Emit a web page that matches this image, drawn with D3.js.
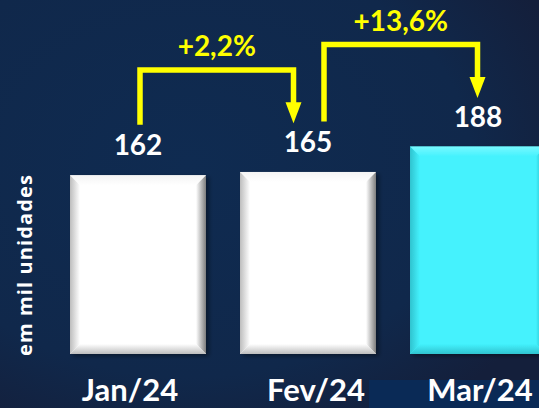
<!DOCTYPE html>
<html>
<head>
<meta charset="utf-8">
<script src="https://cdn.jsdelivr.net/npm/d3@7"></script>
<style>
  html, body { margin: 0; padding: 0; background: #0f2a4e; overflow: hidden; }
  svg { display: block; }
  text { font-family: Lato, "Open Sans", sans-serif; font-weight: bold; }
</style>
</head>
<body>
<div id="chart"></div>
<script>
// chart data
var months = ["Jan/24", "Fev/24", "Mar/24"];
var values = [162, 165, 188];
var barColors = ["white", "white", "cyan"];
var changes = [
  { from: 0, to: 1, label: "+2,2%" },
  { from: 1, to: 2, label: "+13,6%" }
];
var yTitle = "em mil unidades";

makeChart();

function makeChart() {
  var width = 539, height = 408;
  var baseline = 354;

  var svg = d3.select("#chart").append("svg")
      .attr("width", width)
      .attr("height", height);

  var defs = svg.append("defs");

  // background: navy, a bit lighter at the left / center
  var bg = defs.append("radialGradient")
      .attr("id", "bg")
      .attr("cx", "35%").attr("cy", "40%").attr("r", "75%");
  bg.append("stop").attr("offset", "0%").attr("stop-color", "#0f2b51");
  bg.append("stop").attr("offset", "70%").attr("stop-color", "#10284b");
  bg.append("stop").attr("offset", "100%").attr("stop-color", "#141f3b");

  svg.append("rect")
      .attr("width", width).attr("height", height)
      .attr("fill", "url(#bg)");

  // lighter strip behind the last month label
  svg.append("rect")
      .attr("x", 369).attr("y", 380)
      .attr("width", width - 369).attr("height", height - 380)
      .attr("fill", "#0a2a56");

  // bevel colours per bar colour: [face, light edge, dark edge, mid edge]
  var palette = {
    white: ["#ffffff", "#f4f4f4", "#7d7d7d", "#bdbdbd"],
    cyan:  ["#44f2fd", "#78f8ff", "#1d9eac", "#2fc3cf"]
  };

  Object.keys(palette).forEach(function(k) {
    var p = palette[k];
    function grad(id, x1, y1, x2, y2, c1, c2) {
      var g = defs.append("linearGradient").attr("id", id)
          .attr("x1", x1).attr("y1", y1).attr("x2", x2).attr("y2", y2);
      g.append("stop").attr("offset", "0%").attr("stop-color", c1);
      g.append("stop").attr("offset", "100%").attr("stop-color", c2);
    }
    grad(k + "-top", 0, 1, 0, 0, p[0], p[1]);
    grad(k + "-left", 1, 0, 0, 0, p[0], p[3]);
    grad(k + "-right", 0, 0, 1, 0, p[0], p[2]);
    grad(k + "-bottom", 0, 0, 0, 1, p[0], p[3]);
  });

  var shadow = defs.append("filter").attr("id", "shadow")
      .attr("x", "-10%").attr("y", "-10%").attr("width", "125%").attr("height", "120%");
  shadow.append("feDropShadow")
      .attr("dx", 3).attr("dy", 2).attr("stdDeviation", 2)
      .attr("flood-color", "#000").attr("flood-opacity", 0.4);

  var x = d3.scaleBand()
      .domain(months)
      .range([53, 563])
      .paddingInner(0.2)
      .paddingOuter(0.1);

  var y = d3.scaleLinear()
      .domain([0, 188])
      .range([baseline, baseline - 207.4]);

  var data = months.map(function(m, i) {
    return { month: m, value: values[i], color: barColors[i] };
  });

  // bars with bevel edges
  var b = 10;
  var bars = svg.selectAll(".bar")
      .data(data)
      .enter()
      .append("g")
        .attr("class", "bar")
        .attr("filter", "url(#shadow)");

  bars.append("rect")
      .attr("x", function(d) { return x(d.month); })
      .attr("y", function(d) { return y(d.value); })
      .attr("width", x.bandwidth())
      .attr("height", function(d) { return baseline - y(d.value); })
      .attr("fill", function(d) { return palette[d.color][0]; });

  bars.each(function(d) {
    var g = d3.select(this);
    var x0 = x(d.month), x1 = x0 + x.bandwidth();
    var y0 = y(d.value), y1 = baseline;
    var sides = {
      top:    [[x0, y0], [x1, y0], [x1 - b, y0 + b], [x0 + b, y0 + b]],
      left:   [[x0, y0], [x0 + b, y0 + b], [x0 + b, y1 - b], [x0, y1]],
      right:  [[x1, y0], [x1, y1], [x1 - b, y1 - b], [x1 - b, y0 + b]],
      bottom: [[x0, y1], [x0 + b, y1 - b], [x1 - b, y1 - b], [x1, y1]]
    };
    Object.keys(sides).forEach(function(s) {
      g.append("polygon")
          .attr("points", sides[s].map(function(p) { return p.join(","); }).join(" "))
          .attr("fill", "url(#" + d.color + "-" + s + ")");
    });
  });

  // value labels
  svg.selectAll(".value")
      .data(data)
      .enter()
      .append("text")
        .attr("class", "value")
        .attr("x", function(d) { return x(d.month) + x.bandwidth() / 2; })
        .attr("y", function(d) { return y(d.value) - 20; })
        .attr("text-anchor", "middle")
        .attr("fill", "white")
        .style("font-size", "28px")
        .text(function(d) { return d.value; });

  // month labels
  var labelShift = [-8, 8, 2];
  svg.selectAll(".month")
      .data(data)
      .enter()
      .append("text")
        .attr("class", "month")
        .attr("x", function(d, i) { return x(d.month) + x.bandwidth() / 2 + labelShift[i]; })
        .attr("y", 401)
        .attr("text-anchor", "middle")
        .attr("fill", "white")
        .style("font-size", "31px")
        .text(function(d) { return d.month; });

  // y title
  svg.append("text")
      .attr("transform", "translate(32,265.5) rotate(-90)")
      .attr("text-anchor", "middle")
      .attr("fill", "white")
      .attr("textLength", 181)
      .attr("lengthAdjust", "spacing")
      .style("font-family", "'Open Sans', sans-serif")
      .style("font-size", "20px")
      .text(yTitle);

  // yellow change arrows
  var startShift = [2, 16], endShift = [-14.5, -0.5];
  changes.forEach(function(c, i) {
    var cx0 = x(months[c.from]) + x.bandwidth() / 2 + startShift[i];
    var cx1 = x(months[c.to]) + x.bandwidth() / 2 + endShift[i];
    var sy = y(values[c.from]) - 50.5;
    var ty = y(values[c.to]) - 48.7;
    var level = y(Math.max(values[c.from], values[c.to])) - 102;
    var head = 21;

    svg.append("path")
        .attr("d", "M" + cx0 + "," + sy + "V" + level + "H" + cx1 + "V" + (ty - head + 1))
        .attr("fill", "none")
        .attr("stroke", "#ffff00")
        .attr("stroke-width", 5.5)
        .attr("stroke-linejoin", "miter");

    svg.append("polygon")
        .attr("points", [[cx1 - 8, ty - head], [cx1 + 8, ty - head], [cx1, ty]]
          .map(function(p) { return p.join(","); }).join(" "))
        .attr("fill", "#ffff00");

    svg.append("text")
        .attr("x", (cx0 + cx1) / 2)
        .attr("y", level - 13.5)
        .attr("text-anchor", "middle")
        .attr("fill", "#ffff00")
        .style("font-size", "28px")
        .text(c.label);
  });
}
</script>
</body>
</html>
